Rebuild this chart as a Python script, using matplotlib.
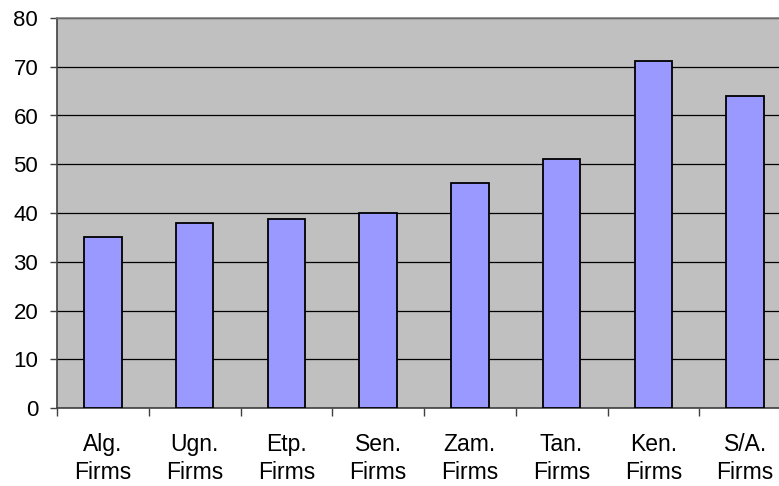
import matplotlib.pyplot as plt
import numpy as np
from matplotlib.ticker import FixedLocator

plt.rcParams['font.family'] = ['Liberation Sans', 'DejaVu Sans']

categories = ['Alg.\nFirms', 'Ugn.\nFirms', 'Etp.\nFirms', 'Sen.\nFirms',
              'Zam.\nFirms', 'Tan.\nFirms', 'Ken.\nFirms', 'S/A.\nFirms']
values = [35, 38, 38.8, 40, 46.2, 51.1, 71.2, 63.9]

fig = plt.figure(figsize=(7.79, 4.86), dpi=100)
ax = fig.add_axes([57 / 779, 78 / 486, 734 / 779, 390 / 486])
ax.set_facecolor('#C0C0C0')

x = np.arange(len(categories))
ax.bar(x, values, width=0.41, color='#9999FF', edgecolor='black',
       linewidth=1.3, zorder=3)

ax.set_xlim(-0.5, len(categories) - 0.5)
ax.set_ylim(0, 80)
ax.set_yticks(range(0, 81, 10))
ax.yaxis.grid(True, color='black', linewidth=0.9, zorder=1)

# category labels at centres, tick marks at the boundaries
ax.set_xticks(x)
ax.set_xticklabels(categories, fontsize=16.5, linespacing=1.3)
ax.xaxis.set_minor_locator(FixedLocator(np.arange(-0.5, len(categories), 1)))
ax.tick_params(axis='x', which='major', length=0, pad=18)
ax.tick_params(axis='x', which='minor', length=6, width=1, color='#404040')
ax.tick_params(axis='y', length=5, width=1, color='#404040', labelsize=16, pad=8.5)

for side in ['left', 'bottom']:
    ax.spines[side].set_color('#404040')
    ax.spines[side].set_linewidth(1.2)
ax.spines['top'].set_color('#808080')
ax.spines['top'].set_linewidth(1.2)
ax.spines['right'].set_visible(False)

fig.savefig('out.png', dpi=100)
